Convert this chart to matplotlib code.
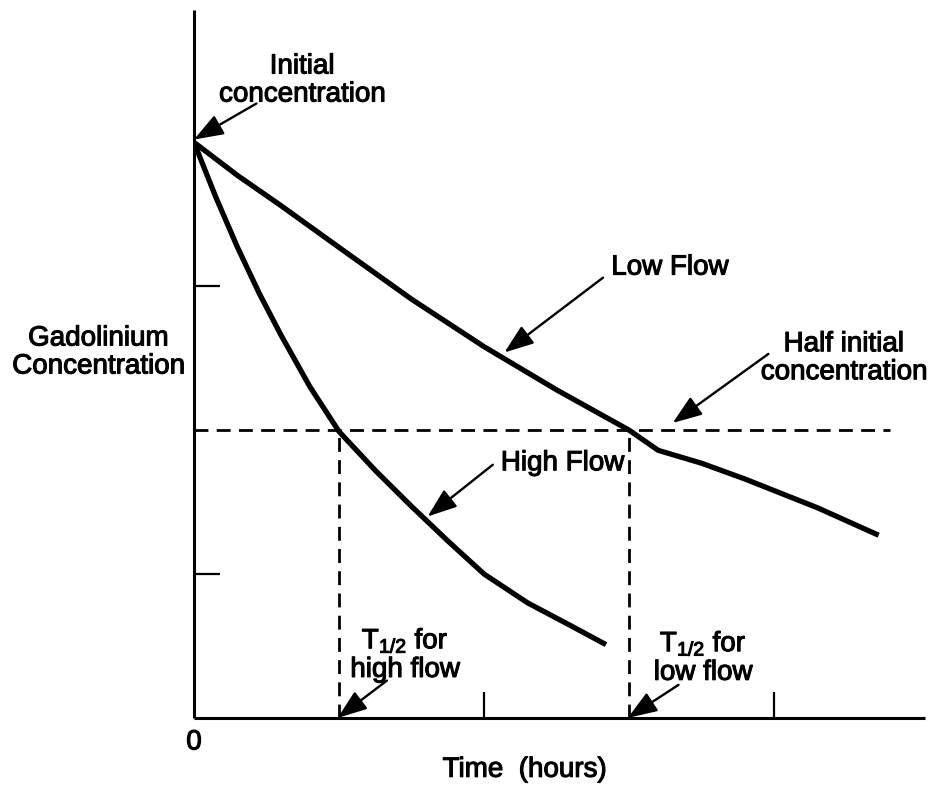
#!/usr/bin/env python3
"""
plot.py - Gadolinium washout curves for high and low flow, with T1/2 markers.

Writes: out.png
"""
import matplotlib
matplotlib.use("Agg")
import matplotlib.pyplot as plt
import matplotlib.patheffects as pe

# Time (hours, arbitrary units) and concentration
HIGH_T = [0, 0.15, 0.3, 0.45, 0.6, 0.8, 1.0, 1.25, 1.5, 1.75, 2.0, 2.3, 2.6, 2.84]
HIGH_C = [4.0, 3.62, 3.27, 2.95, 2.66, 2.30, 1.99, 1.72, 1.47, 1.23, 1.00, 0.80, 0.64, 0.51]

LOW_T = [0, 0.3, 0.6, 1.0, 1.5, 2.0, 2.5, 3.0, 3.2, 3.5, 3.8, 4.3, 4.72]
LOW_C = [4.0, 3.77, 3.56, 3.27, 2.91, 2.58, 2.28, 2.0, 1.86, 1.77, 1.66, 1.46, 1.27]

INITIAL = 4.0
HALF = INITIAL / 2
T_HALF_HIGH = 1.0
T_HALF_LOW = 3.0
HALF_LINE_END = 4.8

X_TICKS = [2, 4]
Y_TICKS = [1, 3]

FONT = "Liberation Sans"
FS = 20
ARROW = dict(arrowstyle="-|>,head_length=0.9,head_width=0.33",
             color="black", lw=1.7, mutation_scale=20, shrinkA=0, shrinkB=0)


def arrow(ax, tip, tail):
    ax.annotate("", xy=tip, xytext=tail, textcoords="data", arrowprops=ARROW)


def main():
    plt.rcParams["font.family"] = [FONT, "DejaVu Sans"]
    plt.rcParams["mathtext.default"] = "regular"

    fig = plt.figure(figsize=(9.36, 7.87), dpi=100)
    ax = fig.add_axes([0.2073, 0.0877, 0.781, 0.8996])
    ax.set_xlim(0, 5.04)
    ax.set_ylim(0, 4.92)

    for side in ("top", "right"):
        ax.spines[side].set_visible(False)
    for side in ("left", "bottom"):
        ax.spines[side].set_linewidth(2.2)
        ax.spines[side].set_capstyle("butt")

    ax.set_xticks(X_TICKS)
    ax.set_yticks(Y_TICKS)
    ax.tick_params(direction="in", length=19, width=1.6,
                   labelbottom=False, labelleft=False)

    ax.plot(HIGH_T, HIGH_C, color="black", lw=3.8, solid_capstyle="butt",
            solid_joinstyle="round")
    ax.plot(LOW_T, LOW_C, color="black", lw=3.8, solid_capstyle="butt",
            solid_joinstyle="round")

    dash = dict(color="black", lw=2.0, dashes=(5, 3))
    ax.plot([0, HALF_LINE_END], [HALF, HALF], **dash)
    ax.plot([T_HALF_HIGH, T_HALF_HIGH], [0, HALF], **dash)
    ax.plot([T_HALF_LOW, T_HALF_LOW], [0, HALF], **dash)

    # scanned text looks heavier than plain regular weight
    heavy = [pe.withStroke(linewidth=0.8, foreground="black")]
    txt = dict(fontsize=FS, ha="center", va="center", linespacing=1.1,
               path_effects=heavy, clip_on=False)

    ax.text(0.745, 4.43, "Initial\nconcentration", **txt)
    arrow(ax, (0.0, 4.02), (0.43, 4.27))

    ax.text(3.28, 3.13, "Low Flow", **txt)
    arrow(ax, (2.14, 2.54), (2.82, 3.06))

    ax.text(4.48, 2.50, "Half initial\nconcentration", **txt)
    arrow(ax, (3.30, 2.05), (3.96, 2.53))

    ax.text(2.54, 1.77, "High Flow", **txt)
    arrow(ax, (1.61, 1.40), (2.06, 1.76))

    ax.text(1.455, 0.44, "T$_{1/2}$ for\nhigh flow", **txt)
    arrow(ax, (0.99, 0.0), (1.33, 0.26))

    ax.text(3.51, 0.42, "T$_{1/2}$ for\nlow flow", **txt)
    arrow(ax, (2.99, 0.0), (3.34, 0.23))

    ax.text(0.0, -0.17, "0", **txt)
    ax.text(2.28, -0.36, "Time  (hours)", **txt)
    ax.text(-0.66, 2.54, "Gadolinium\nConcentration", **txt)

    fig.savefig("out.png", dpi=100)
    plt.close(fig)


if __name__ == "__main__":
    main()
